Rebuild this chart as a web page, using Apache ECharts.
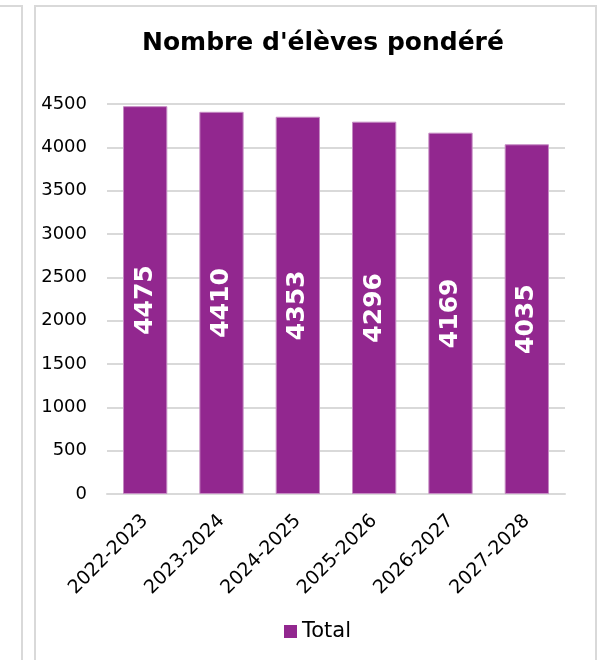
<!DOCTYPE html>
<html>
<head>
<meta charset="utf-8">
<script src="https://cdn.jsdelivr.net/npm/echarts@6/dist/echarts.min.js"></script>
<style>
html,body{margin:0;padding:0;background:#fff;}
#chart{width:608px;height:660px;}
</style>
</head>
<body>
<div id="chart"></div>
<script>
const categories = ['2022-2023','2023-2024','2024-2025','2025-2026','2026-2027','2027-2028'];
const totalValues = [4475, 4410, 4353, 4296, 4169, 4035];
const seriesName = 'Total';
const titleText = "Nombre d'élèves pondéré";

const chart = echarts.init(document.getElementById('chart'), null, {renderer:'canvas'});
chart.setOption({
  backgroundColor:'#ffffff',
  animation:false,
  title:{
    text:titleText,
    left:137,
    top:26,
    textStyle:{fontFamily:'DejaVu Sans',fontWeight:'bold',fontSize:25,color:'#000'}
  },
  legend:{
    data:[seriesName],
    top:616,
    left:279,
    itemWidth:13,itemHeight:13,itemGap:5,
    icon:'rect',
    itemStyle:{borderWidth:0},
    textStyle:{fontFamily:'DejaVu Sans',fontSize:21,color:'#000'}
  },
  grid:{left:107,right:43,top:104,bottom:166,containLabel:false},
  xAxis:{
    type:'category',
    data:categories,
    axisLine:{lineStyle:{color:'#d9d9d9',width:2}},
    axisTick:{show:false},
    axisLabel:{rotate:45,margin:24,fontFamily:'DejaVu Sans',fontSize:19,color:'#000',interval:0}
  },
  yAxis:{
    type:'value',
    min:0,max:4500,interval:500,
    axisLine:{show:false},
    axisTick:{show:false},
    splitLine:{lineStyle:{color:'#d9d9d9',width:2}},
    axisLabel:{margin:20,fontFamily:'DejaVu Sans',fontSize:18,color:'#000',formatter:function(v){return String(v);}}
  },
  series:[{
    name:seriesName,
    type:'bar',
    data:totalValues,
    barCategoryGap:'42%',
    itemStyle:{color:'#92278F',borderColor:'#c58bc3',borderWidth:1},
    label:{
      show:true,position:'inside',rotate:90,
      fontFamily:'DejaVu Sans',fontWeight:'bold',fontSize:25,color:'#fff'
    }
  }],
  graphic:[
    {type:'rect',shape:{x:35,y:6,width:561,height:700},style:{fill:null,stroke:'#d9d9d9',lineWidth:2},silent:true,z:-1},
    {type:'polyline',shape:{points:[[0,6],[22,6],[22,670]]},style:{fill:null,stroke:'#d9d9d9',lineWidth:2},silent:true,z:-1}
  ]
});
</script>
</body>
</html>
